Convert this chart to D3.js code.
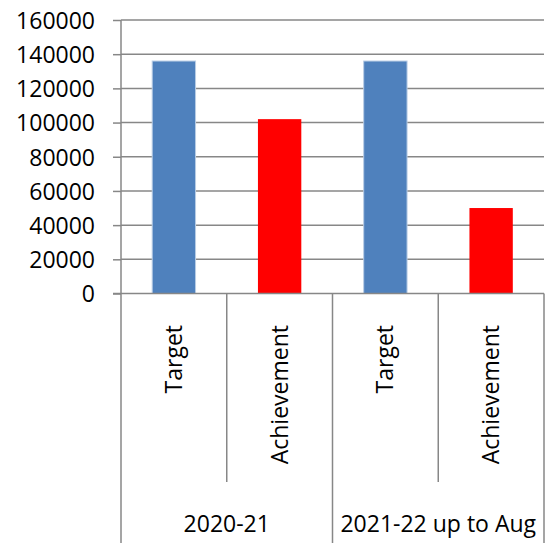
<!DOCTYPE html>
<html><head><meta charset="utf-8">
<script src="https://cdn.jsdelivr.net/npm/d3@7"></script>
<style>body{margin:0;background:#fff}svg{display:block}text{font-family:"Open Sans",sans-serif;fill:#000}</style>
</head><body><svg id="c" width="552" height="543"></svg>
<script>
const groups = ["2020-21", "2021-22 up to Aug"];
const categories = ["Target", "Achievement"];
const values = [136000, 102000, 136000, 50000];
const colors = ["#4F81BD", "#FF0000"];
const yTicks = [0, 20000, 40000, 60000, 80000, 100000, 120000, 140000, 160000];

(function () {
const svg = d3.select("#c");
const pLeft = 121, pRight = 544, pTop = 20, pBottom = 293.5, axisBottom = 543, innerBottom = 482;
const gray = "#878787";
const items = [];
groups.forEach((g, gi) => categories.forEach((c, ci) => items.push({g, c, ci, key: gi + "-" + ci, v: values[gi * 2 + ci]})));

const y = d3.scaleLinear().domain([0, 160000]).range([pBottom, pTop]);
const x = d3.scaleBand().domain(items.map(d => d.key)).range([pLeft, pRight]).paddingInner(0.59).paddingOuter(0.295);
const xg = d3.scaleBand().domain(groups).range([pLeft, pRight]);

// gridlines
svg.append("g").selectAll("line").data(yTicks.filter(t => t > 0)).join("line")
  .attr("x1", pLeft).attr("x2", pRight).attr("y1", d => y(d)).attr("y2", d => y(d))
  .attr("stroke", gray).attr("stroke-width", 1.5);

// y axis
const yAxis = d3.axisLeft(y).tickValues(yTicks).tickSize(8).tickPadding(18).tickFormat(d3.format("d"));
const ya = svg.append("g").attr("transform", `translate(${pLeft},0)`).call(yAxis);
ya.select(".domain").attr("stroke", gray).attr("stroke-width", 1.5).attr("d", `M-0,${pTop}V${pBottom}`);
ya.selectAll(".tick line").attr("stroke", gray).attr("stroke-width", 1.5);
ya.selectAll(".tick text").style("font-size", "23px").attr("font-family", null).attr("dy", "0.36em");
ya.attr("font-family", null).attr("font-size", null);

// bars
svg.append("g").selectAll("rect").data(items).join("rect")
  .attr("x", d => x(d.key)).attr("width", x.bandwidth())
  .attr("y", d => y(d.v)).attr("height", d => y(0) - y(d.v))
  .attr("fill", d => colors[d.ci])
  .attr("stroke", d => d.ci === 0 ? "#b9cde5" : "none").attr("stroke-width", 1);

// x axis
const xa = svg.append("g");
xa.append("line").attr("x1", pLeft - 8).attr("x2", pRight).attr("y1", pBottom).attr("y2", pBottom)
  .attr("stroke", gray).attr("stroke-width", 1.5);
const step = x.step();
const inner = items.filter(d => d.ci === 1).map(d => x(d.key) + x.bandwidth() / 2 - step / 2);
xa.selectAll(".inner").data(inner).join("line").attr("class", "inner")
  .attr("x1", d => d).attr("x2", d => d).attr("y1", pBottom).attr("y2", innerBottom)
  .attr("stroke", gray).attr("stroke-width", 1.5);
const outer = [pLeft].concat(groups.map(g => xg(g) + xg.bandwidth()));
xa.selectAll(".outer").data(outer).join("line").attr("class", "outer")
  .attr("x1", d => d).attr("x2", d => d).attr("y1", pBottom).attr("y2", axisBottom)
  .attr("stroke", gray).attr("stroke-width", 1.5);
xa.selectAll(".cat").data(items).join("text").attr("class", "cat")
  .attr("transform", d => `translate(${x(d.key) + x.bandwidth() / 2 + 8},325) rotate(-90)`)
  .attr("text-anchor", "end").style("font-size", "23px").text(d => d.c);
xa.selectAll(".grp").data(groups).join("text").attr("class", "grp")
  .attr("x", d => xg(d) + xg.bandwidth() / 2).attr("y", 532)
  .attr("text-anchor", "middle").style("font-size", "23px").text(d => d);
})();
</script></body></html>
